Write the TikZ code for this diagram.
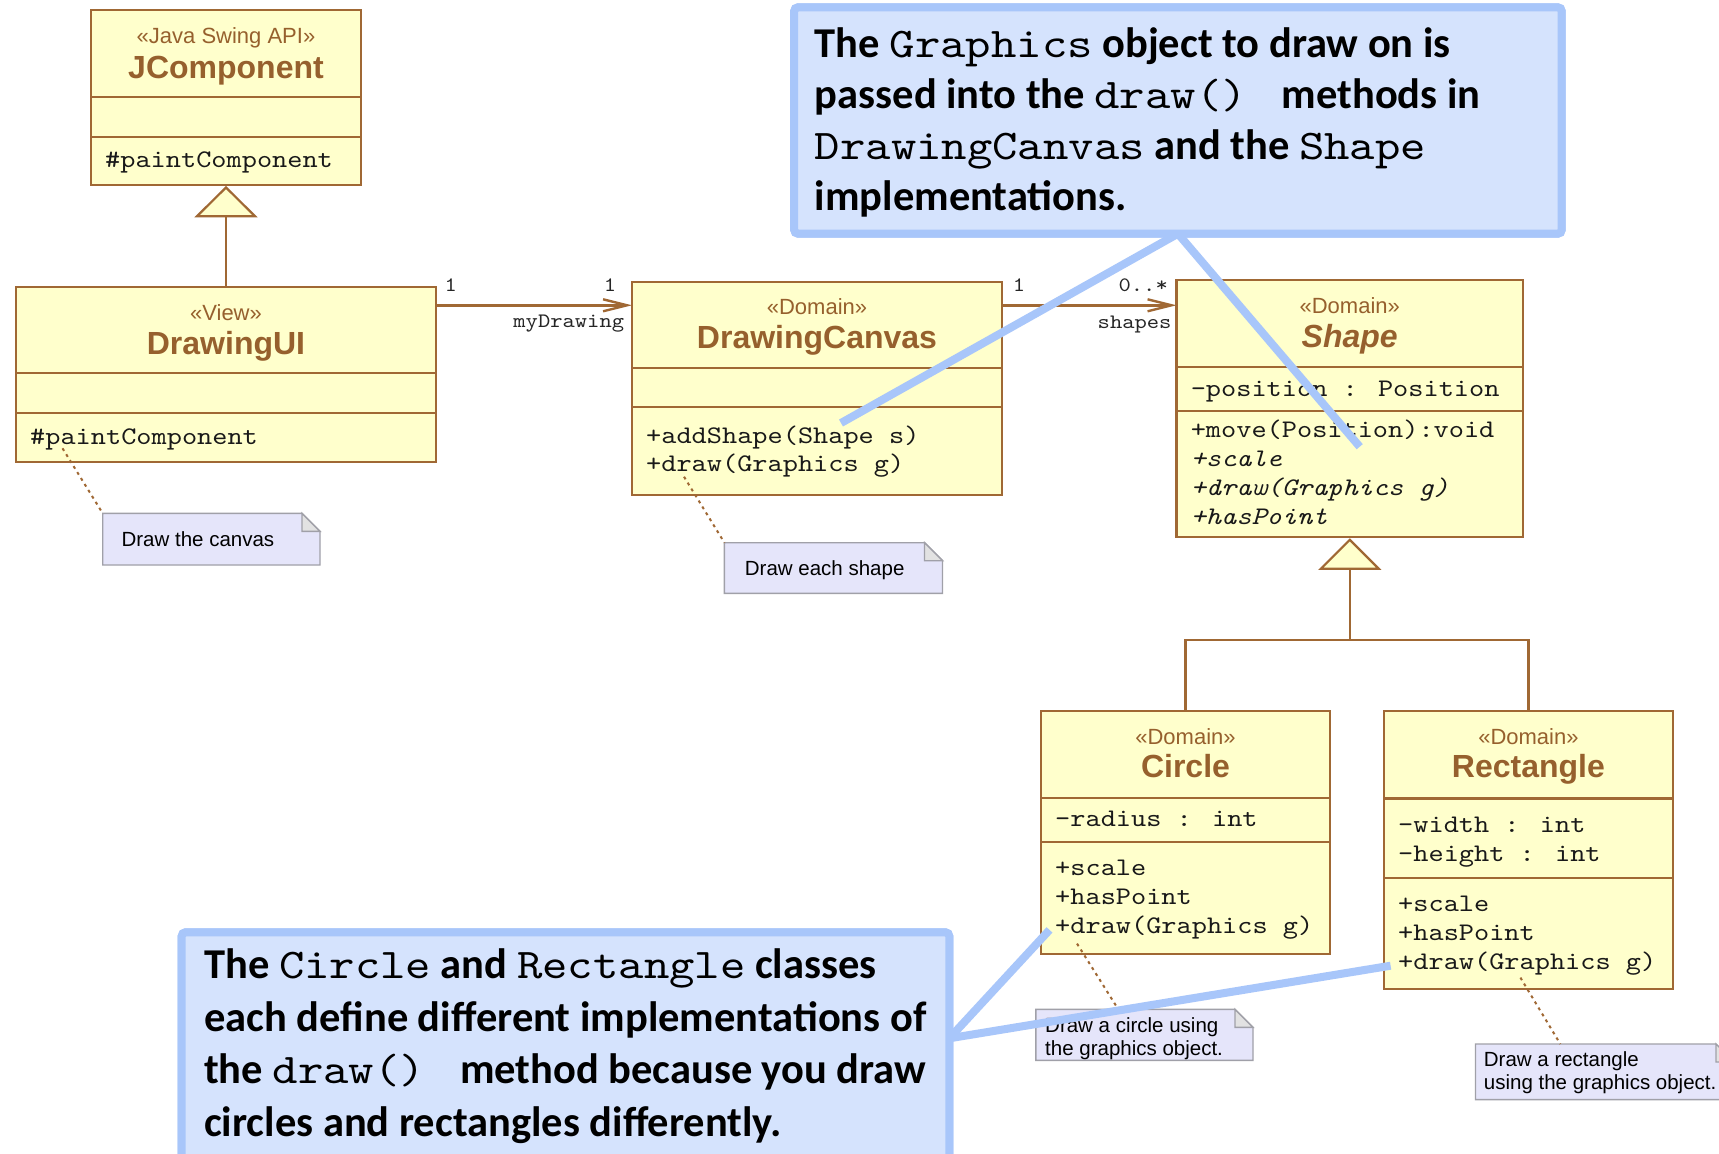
\documentclass[tikz,border=0pt]{standalone}
\usepackage{fontspec}
\setmainfont{Liberation Sans}
\newfontfamily\calib{Carlito}
\newfontfamily\cour{lmmono10-regular}[Extension=.otf, ItalicFont=lmmono10-italic, BoldFont=lmmono10-regular, FakeStretch=1.1429]
\usetikzlibrary{arrows.meta,calc}

\definecolor{clsfill}{RGB}{255,255,204}
\definecolor{clsline}{RGB}{160,104,52}
\definecolor{clstext}{RGB}{150,96,45}
\definecolor{notefill}{RGB}{229,229,250}
\definecolor{noteline}{RGB}{160,160,168}
\definecolor{foldfill}{RGB}{226,226,226}
\definecolor{callfill}{RGB}{213,227,253}
\definecolor{callline}{RGB}{168,198,250}

% code words inside the big callouts
\newcommand\callcode[1]{{\fontsize{42.3}{51}\cour #1}}

% class compartment divider, offset measured from the top edge
\newcommand\compsep[2]{\draw[clsedge] ($(#1.north west)+(0,#2)$) -- ($(#1.north east)+(0,#2)$);}

% UML note with a folded corner: name, x, y, width, height
\newcommand\umlnote[5]{%
  \node[notearea, minimum width=#4, minimum height=#5] (#1) at (#2,#3) {};
  \filldraw[noteedge] (#1.north west) -- ([xshift=-18pt]#1.north east) -- ([yshift=-18pt]#1.north east)
    -- (#1.south east) -- (#1.south west) -- cycle;
  \filldraw[noteedge, fill=foldfill] ([xshift=-18pt]#1.north east) -- ([xshift=-18pt,yshift=-18pt]#1.north east)
    -- ([yshift=-18pt]#1.north east) -- cycle;
}

\begin{document}
\begin{tikzpicture}[x=1pt, y=-1pt,
  cls/.style={draw=clsline, fill=clsfill, line width=2.2pt, inner sep=0pt, outer sep=0pt, anchor=north west},
  clsedge/.style={draw=clsline, line width=2.2pt},
  stereo/.style={font=\fontsize{22}{26}\selectfont, text=clstext, anchor=base, inner sep=0pt},
  cname/.style={font=\fontsize{32}{36}\selectfont\bfseries, text=clstext, anchor=base, inner sep=0pt},
  member/.style={font=\fontsize{25.3}{28}\cour, text=black!90, anchor=base west, inner sep=0pt},
  absmember/.style={member, font=\fontsize{25.3}{28}\cour\itshape},
  mult/.style={font=\fontsize{20.5}{24}\cour, text=black!85, anchor=base, inner sep=0pt},
  assoc/.style={draw=clsline, line width=2.4pt, -{Straight Barb[length=24pt,width=12pt]}},
  gen/.style={draw=clsline, line width=2.2pt},
  gentri/.style={draw=clsline, fill=clsfill, line width=2.2pt, line join=miter},
  notearea/.style={inner sep=0pt, outer sep=0pt, anchor=north west},
  noteedge/.style={draw=noteline, fill=notefill, line width=1.4pt},
  notetext/.style={font=\fontsize{20.5}{22.6}\selectfont, text=black, anchor=base west, inner sep=0pt},
  notelink/.style={draw=clsline, line width=2pt, dash pattern=on 3pt off 4pt},
  callbox/.style={draw=callline, fill=callfill, line width=8pt, rounded corners=4pt, inner sep=0pt, outer sep=0pt, anchor=north west},
  pointer/.style={draw=callline, line width=8pt},
  calltext/.style={font=\fontsize{42.5}{51}\calib\bfseries, text=black, anchor=base west, inner sep=0pt}
]
\useasboundingbox (0,0) rectangle (1719,1154);
\clip (0,0) rectangle (1719,1154);
\fill[white] (0,0) rectangle (1719,1154);

% ---------- JComponent ----------
\node[cls, minimum width=270, minimum height=175] (jc) at (91,10) {};
\compsep{jc}{87}
\compsep{jc}{127}
\node[stereo] (jcS) at (226,43.3) {«Java Swing API»};
\node[cname] (jcN) at (226,78.3) {JComponent};
\node[member] (jcM) at (105,167.7) {\#paintComponent};

% ---------- DrawingUI ----------
\node[cls, minimum width=420, minimum height=175] (ui) at (16,287) {};
\compsep{ui}{86.3}
\compsep{ui}{126.3}
\node[stereo] (uiS) at (226,320) {«View»};
\node[cname] (uiN) at (226,354.3) {DrawingUI};
\node[member] (uiM) at (30,444.3) {\#paintComponent};

% ---------- DrawingCanvas ----------
\node[cls, minimum width=370, minimum height=213] (canvas) at (632,282) {};
\compsep{canvas}{85.7}
\compsep{canvas}{125.3}
\node[stereo] (cvS) at (817,314) {«Domain»};
\node[cname] (cvN) at (817,348.3) {DrawingCanvas};
\node[member] (cvM1) at (646,443.3) {+addShape(Shape s)};
\node[member] (cvM2) at (646,471.7) {+draw(Graphics g)};

% ---------- Shape ----------
\node[cls, minimum width=346.5, minimum height=257.3] (shape) at (1176.5,280) {};
\compsep{shape}{86.7}
\compsep{shape}{131}
\node[stereo] (shS) at (1349.75,313.3) {«Domain»};
\node[cname, font=\fontsize{32}{36}\selectfont\bfseries\itshape] (shN) at (1349.75,347.3) {Shape};
\node[member] (shA) at (1190.6,396) {-position : Position};
\node[member] (shM1) at (1190.6,437.3) {+move(Position):void};
\node[absmember] (shM2) at (1190.6,466.7) {+scale};
\node[absmember] (shM3) at (1190.6,495.3) {+draw(Graphics g)};
\node[absmember] (shM4) at (1190.6,524) {+hasPoint};

% ---------- Circle ----------
\node[cls, minimum width=288.4, minimum height=242.9] (circ) at (1041.3,710.9) {};
\compsep{circ}{86.9}
\compsep{circ}{131.2}
\node[stereo] (ciS) at (1185.5,744.3) {«Domain»};
\node[cname] (ciN) at (1185.5,777.4) {Circle};
\node[member] (ciA) at (1055,826.7) {-radius : int};
\node[member] (ciM1) at (1055,875.4) {+scale};
\node[member] (ciM2) at (1055,904.4) {+hasPoint};
\node[member] (ciM3) at (1055,933.4) {+draw(Graphics g)};

% ---------- Rectangle ----------
\node[cls, minimum width=288.4, minimum height=278] (rect) at (1384.2,710.9) {};
\compsep{rect}{87.6}
\compsep{rect}{167.3}
\node[stereo] (reS) at (1528.4,744.3) {«Domain»};
\node[cname] (reN) at (1528.4,777.4) {Rectangle};
\node[member] (reA1) at (1398,832.9) {-width : int};
\node[member] (reA2) at (1398,861.8) {-height : int};
\node[member] (reM1) at (1398,911.2) {+scale};
\node[member] (reM2) at (1398,940.2) {+hasPoint};
\node[member] (reM3) at (1398,969.1) {+draw(Graphics g)};

% ---------- generalisations ----------
\coordinate (jcTri) at ([yshift=-2.5pt]jc.south);
\draw[gen] (ui.north) -- ($(jcTri)+(0,28.7)$);
\draw[gentri] (jcTri) -- ++(-29,28.7) -- ++(58,0) -- cycle;

\coordinate (shTri) at ([yshift=-2.5pt]shape.south);
\coordinate (shJoin) at ($(shTri)+(0,100)$);
\draw[gen] ($(shTri)+(0,29)$) -- (shJoin);
\draw[gen] (circ.north) |- (shJoin) -| (rect.north);
\draw[gentri] (shTri) -- ++(-29,29) -- ++(58,0) -- cycle;

% ---------- associations ----------
\draw[assoc] ([yshift=-18.3pt]ui.north east) -- ([yshift=-23.3pt]canvas.north west);
\node[mult] (m1) at (450.7,291.7) {1};
\node[mult] (m2) at (610,291.7) {1};
\node[mult, anchor=base east] (r1) at (624.3,327.3) {myDrawing};

\draw[assoc] ([yshift=-23.3pt]canvas.north east) -- ([yshift=-25.3pt]shape.north west);
\node[mult] (m3) at (1019,291.7) {1};
\node[mult, anchor=base east] (m4) at (1168,291.7) {0..*};
\node[mult, anchor=base east] (r2) at (1171.7,328.3) {shapes};

% ---------- notes ----------
\umlnote{n1}{102.7}{513.3}{217.3}{51.7}
\node[notetext] (n1t) at (121.4,546.7) {Draw the canvas};
\coordinate (uiDot) at (62.5,448.3);
\draw[notelink] (uiDot) -- (n1.north west);

\umlnote{n2}{724.4}{542.7}{218.1}{50.6}
\node[notetext] (n2t) at (744.7,575) {Draw each shape};
\coordinate (cvDot) at (684,476.7);
\draw[notelink] (cvDot) -- (n2.north west);

\umlnote{n3}{1035.8}{1009.3}{217.2}{51.1}
\node[notetext] (n3t1) at (1045,1032.1) {Draw a circle using};
\node[notetext] (n3t2) at (1045,1055.3) {the graphics object.};
\coordinate (ciDot) at (1077,943.6);
\draw[notelink] (ciDot) -- ([xshift=82.5pt]n3.north west);

\umlnote{n4}{1475.5}{1044}{258.5}{55.6}
\node[notetext] (n4t1) at (1483.7,1066.2) {Draw a rectangle};
\node[notetext] (n4t2) at (1483.7,1089.4) {using the graphics object.};
\coordinate (reDot) at (1520.4,977.6);
\draw[notelink] (reDot) -- ([xshift=84.8pt]n4.north west);

% ---------- callout pointers ----------
\node[callbox, minimum width=767.5, minimum height=226.4] (callA) at (794.2,7.3) {};
\node[callbox, minimum width=767.6, minimum height=240] (callB) at (181.7,932.3) {};
\coordinate (ptA1) at (841,423);
\coordinate (ptA2) at (1359.7,446.7);
\coordinate (ptB1) at (1049.5,929.9);
\coordinate (ptB2) at (1390.6,965.7);
\draw[pointer] (callA.south) -- (ptA1);
\draw[pointer] (callA.south) -- (ptA2);
\draw[pointer] ([yshift=14pt]callB.east) -- (ptB1);
\draw[pointer] ([yshift=14pt]callB.east) -- (ptB2);
% repaint the callout frames over the pointer roots
\draw[callbox] (callA.north west) rectangle (callA.south east);
\draw[callbox] (callB.north west) rectangle (callB.south east);

% ---------- callout texts ----------
\node[calltext] (ta1) at (814.7,57.5) {The \callcode{Graphics} object to draw on is};
\node[calltext] (ta2) at (814.7,108.5) {passed into the \callcode{draw()\ } methods in};
\node[calltext] (ta3) at (814.7,159.5) {\callcode{DrawingCanvas} and the \callcode{Shape}};
\node[calltext] (ta4) at (814.7,210.5) {implementations.};

\node[calltext] (tb1) at (204,978) {The \callcode{Circle} and \callcode{Rectangle} classes};
\node[calltext] (tb2) at (204,1031) {each define different implementations of};
\node[calltext] (tb3) at (204,1083.5) {the \callcode{draw()\ } method because you draw};
\node[calltext] (tb4) at (204,1136) {circles and rectangles differently.};
\end{tikzpicture}
\end{document}
